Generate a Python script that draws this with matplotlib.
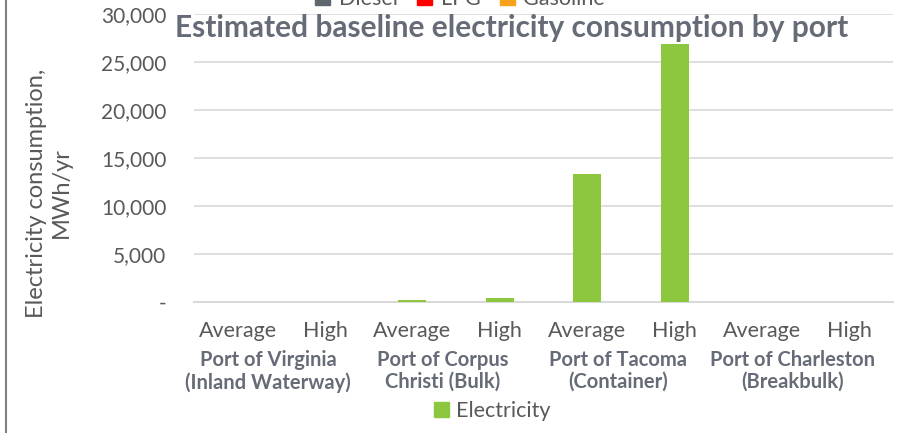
import matplotlib
matplotlib.use('agg')
import matplotlib.pyplot as plt
from matplotlib.lines import Line2D
from matplotlib.patches import Patch
from matplotlib.ticker import FuncFormatter
import numpy as np

plt.rcParams['font.family'] = ['Lato', 'DejaVu Sans']

#chart data
ports = ['Port of Virginia\n(Inland Waterway)', 'Port of Corpus\nChristi (Bulk)',
         'Port of Tacoma\n(Container)', 'Port of Charleston\n(Breakbulk)']
scenarios = ['Average', 'High']
diesel = [0, 0, 0, 0, 0, 0, 0, 0]
lpg = [0, 0, 0, 0, 0, 0, 0, 0]
gasoline = [0, 0, 0, 0, 0, 0, 0, 0]
electricity = [0, 0, 200, 380, 13330, 26880, 0, 0]

colours = {'Diesel': '#5f6670', 'LPG': '#ff0000', 'Gasoline': '#f7a21b', 'Electricity': '#8dc63f'}
tick_grey = '#595959'
slate = '#666c77'

fig = plt.figure(figsize=(9.1, 4.33), dpi=100)
ax = fig.add_axes([194 / 910, 1 - 302 / 433, (893 - 194) / 910, 288 / 433])

x = np.arange(len(electricity))
width = 0.32
for name, vals in [('Diesel', diesel), ('LPG', lpg), ('Gasoline', gasoline), ('Electricity', electricity)]:
    ax.bar(x, vals, width, color=colours[name], label=name, zorder=3)

#axes styling
ax.set_xlim(-0.5, len(x) - 0.5)
ax.set_ylim(0, 30000)
ax.set_yticks(np.arange(0, 30001, 5000))
ax.yaxis.set_major_formatter(FuncFormatter(lambda v, p: '-' if v == 0 else f'{int(v):,}'))
ax.grid(axis='y', color='#d9d9d9', linewidth=1.2, zorder=0)
for s in ['top', 'right', 'left']:
    ax.spines[s].set_visible(False)
ax.spines['bottom'].set_color('#d9d9d9')
ax.spines['bottom'].set_linewidth(1.5)
ax.tick_params(axis='y', length=0, labelsize=15, labelcolor=tick_grey, pad=20)
ax.set_xticks(x)
ax.set_xticklabels(scenarios * len(ports))
ax.tick_params(axis='x', length=0, labelsize=15.5, labelcolor=tick_grey, pad=14)

#port group labels under the scenario labels
for i, port in enumerate(ports):
    ax.text(2 * i + 0.35, -0.165, port, transform=ax.get_xaxis_transform(), ha='center', va='top',
            fontsize=14.5, fontweight='bold', color=slate, linespacing=1.15)

fig.text(49 / 910, 1 - 193 / 433, 'Electricity consumption,\nMWh/yr', rotation=90, ha='center', va='center',
         fontsize=17, color=tick_grey, linespacing=1.2)

fig.text(512 / 910, 1 - 28 / 433, 'Estimated baseline electricity consumption by port',
         ha='center', va='center', fontsize=21.5, fontweight='bold', color=slate)

#legends, top one sits partly off the canvas
top_handles = [Patch(color=colours[n]) for n in ['Diesel', 'LPG', 'Gasoline']]
fig.legend(top_handles, ['Diesel', 'LPG', 'Gasoline'], loc='center', bbox_to_anchor=(460 / 910, 1 + 1 / 433),
           ncol=3, frameon=False, fontsize=15.5, handlelength=0.7, handleheight=0.7, columnspacing=0.9,
           handletextpad=0.4, labelcolor=tick_grey)
fig.legend([Patch(color=colours['Electricity'])], ['Electricity'], loc='center',
           bbox_to_anchor=(492 / 910, 1 - 411 / 433), frameon=False, fontsize=15.5, handlelength=0.7,
           handleheight=0.7, handletextpad=0.3, labelcolor=tick_grey)

fig.add_artist(Line2D([6 / 910, 6 / 910], [0, 1], transform=fig.transFigure, color='#7f7f7f', linewidth=1.5))

plt.savefig('out.png', dpi=100)
